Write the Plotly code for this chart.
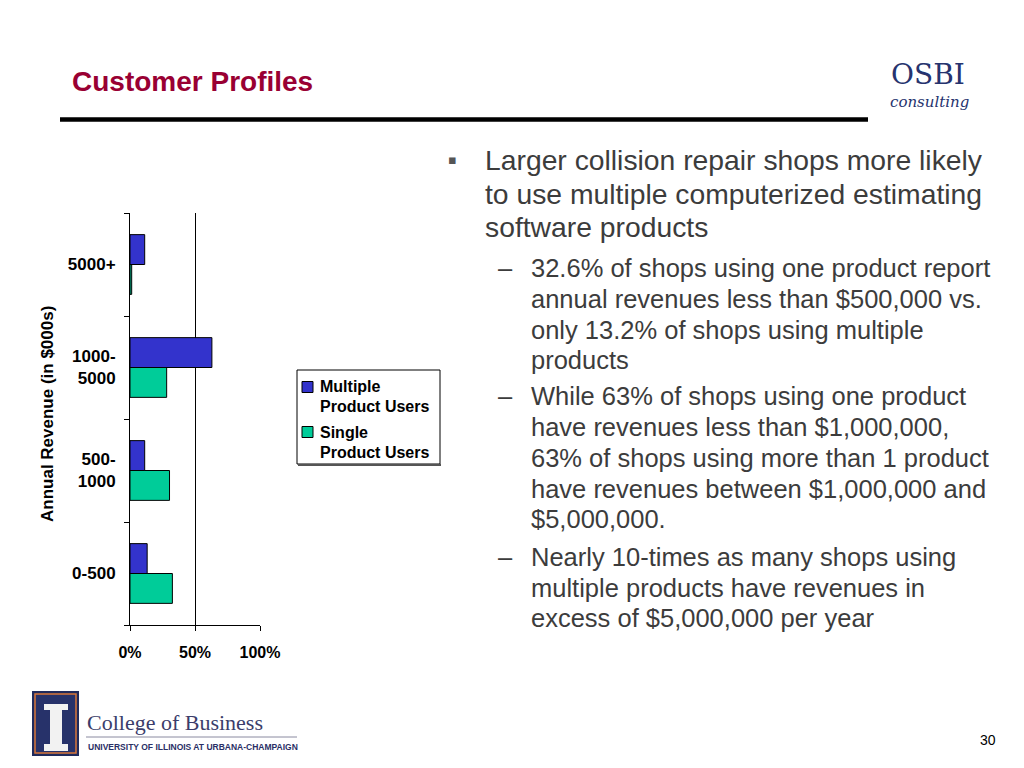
import plotly.graph_objects as go

# ---- data ----
categories = ["0-500", "500-1000", "1000-5000", "5000+"]
tick_labels = ["0-500", "500-<br>1000", "1000-<br>5000", "5000+"]
multiple_users = [13.2, 11.3, 63.0, 11.3]
single_users = [32.6, 30.4, 28.2, 1.3]
x_ticks = [0, 50, 100]
x_tick_labels = ["0%", "50%", "100%"]
series_names = ["Multiple<br>Product Users", "Single<br>Product Users"]

title_text = "Customer Profiles"
main_bullet = [
    "Larger collision repair shops more likely",
    "to use multiple computerized estimating",
    "software products",
]
sub_bullets = [
    ["32.6% of shops using one product report",
     "annual revenues less than $500,000 vs.",
     "only 13.2% of shops using multiple",
     "products"],
    ["While 63% of shops using one product",
     "have revenues less than $1,000,000,",
     "63% of shops using more than 1 product",
     "have revenues between $1,000,000 and",
     "$5,000,000."],
    ["Nearly 10-times as many shops using",
     "multiple products have revenues in",
     "excess of $5,000,000 per year"],
]

W, H = 1024, 768
OFF = 8  # page offset of the figure inside the browser window
def X(p): return (p - OFF) / W
def Y(p): return 1 - (p - OFF) / H

SANS = "Liberation Sans, Arial, sans-serif"
SERIF = "DejaVu Serif, serif"
BLUE = "#3333CC"
GREEN = "#00CC99"
TXT = "#3c3c3c"
NAVY = "#26336e"

fig = go.Figure()
fig.add_trace(go.Bar(
    y=categories, x=single_users, orientation="h", name=series_names[1],
    marker=dict(color=GREEN, line=dict(color="black", width=1)),
))
fig.add_trace(go.Bar(
    y=categories, x=multiple_users, orientation="h", name=series_names[0],
    marker=dict(color=BLUE, line=dict(color="black", width=1)),
))

fig.update_layout(
    width=W, height=H,
    margin=dict(l=0, r=0, t=0, b=0, pad=0, autoexpand=False),
    paper_bgcolor="white", plot_bgcolor="white",
    barmode="group", bargap=0.42, bargroupgap=0,
    font=dict(family=SANS, color="black"),
    showlegend=False,
    xaxis=dict(
        domain=[X(130), X(260)], range=[0, 100],
        tickvals=x_ticks, ticktext=x_tick_labels,
        ticks="outside", ticklen=5, tickcolor="black",
        showgrid=True, gridcolor="black", gridwidth=1,
        showline=True, linecolor="black", linewidth=1, zeroline=False,
        tickfont=dict(family=SANS, size=16, color="black", weight="bold"),
        ticklabelstandoff=8, fixedrange=True, automargin=False,
    ),
    yaxis=dict(
        domain=[Y(625), Y(213)], type="category",
        categoryorder="array", categoryarray=categories,
        tickvals=categories, ticktext=tick_labels,
        ticks="outside", ticklen=5, tickcolor="black", tickson="boundaries",
        showgrid=False, showline=True, linecolor="black", linewidth=1,
        tickfont=dict(family=SANS, size=17, color="black", weight="bold"),
        ticklabelstandoff=10, fixedrange=True, automargin=False,
    ),
)

ann = []
def A(x, y, text, size, color, family=SANS, xanchor="left", weight="normal", yanchor="middle", **kw):
    ann.append(dict(x=X(x), y=Y(y), xref="paper", yref="paper", text=text, showarrow=False,
                    xanchor=xanchor, yanchor=yanchor,
                    font=dict(family=family, size=size, color=color, weight=weight), **kw))

A(70, 82, title_text, 28, "#990033", weight="bold")
A(47, 414, "Annual Revenue (in $000s)", 17, "black", xanchor="center", weight="bold", textangle=-90)
A(452.5, 160, "▪", 13, "#555555", family="DejaVu Sans", xanchor="center")
main_y = [160, 194, 227]
for t, yy in zip(main_bullet, main_y):
    A(483, yy, t, 28.3, TXT)
sub_y = [[268, 299, 330, 360], [396, 427, 458, 489, 519], [557, 588, 618]]
for lines, ys in zip(sub_bullets, sub_y):
    A(496, ys[0], "–", 25.5, TXT)
    for t, yy in zip(lines, ys):
        A(529, yy, t, 25.5, TXT)

# legend (drawn beside the chart, as in the original slide)
leg_colors = [BLUE, GREEN]
leg_y = [[387, 406], [432, 452]]
for name, yy in zip(series_names, leg_y):
    l1, l2 = name.split("<br>")
    A(318, yy[0], l1, 16, "black", weight="bold")
    A(318, yy[1], l2, 16, "black", weight="bold")

# OSBI logo
A(928, 92, "OSBI", 28, NAVY, family=SERIF, xanchor="center", yanchor="bottom", borderpad=0)
A(929, 92, "<i>consulting</i>", 15, NAVY, family=SERIF, xanchor="center", yanchor="top", borderpad=0)
# College of Business logo text
A(85, 722, "College of Business", 22, "#3b3d6b", family="Liberation Serif, serif")
A(86, 747, "UNIVERSITY OF ILLINOIS AT URBANA-CHAMPAIGN", 8.5, "#2a2f66", weight="bold")
A(988, 740, "30", 14, "black", xanchor="center")
fig.update_layout(annotations=ann)

shapes = []
def R(x0, x1, y0, y1, fill, line=None):
    shapes.append(dict(type="rect", xref="paper", yref="paper", x0=X(x0), x1=X(x1), y0=Y(y1), y1=Y(y0),
                       fillcolor=fill, line=line or dict(width=0)))
def L(x0, x1, y0, y1, color, width):
    shapes.append(dict(type="line", xref="paper", yref="paper", x0=X(x0), x1=X(x1), y0=Y(y0), y1=Y(y1),
                       line=dict(color=color, width=width)))

L(60, 868, 119.5, 119.5, "black", 4.5)
# legend frame and swatches
R(297, 440, 370, 464, "white", dict(color="black", width=1))
L(298, 441, 465, 465, "#555555", 2)
for c, yy in zip(leg_colors, leg_y):
    R(302, 313, yy[0] - 5.5, yy[0] + 5.5, c, dict(color="black", width=1))
# Illinois logo block
R(32, 79, 691, 756, "#1f2a5c")
R(35, 76, 694, 753, "#27326a", dict(color="#d9773a", width=1.5))
for (x0, x1, y0, y1) in [(44, 68, 704, 710), (50, 62, 710, 744), (44, 68, 744, 751)]:
    R(x0, x1, y0, y1, "#f2f2f2")
L(86, 297, 737, 737, "#8a8aa0", 1)
fig.update_layout(shapes=shapes)

fig.write_html("out.html")
